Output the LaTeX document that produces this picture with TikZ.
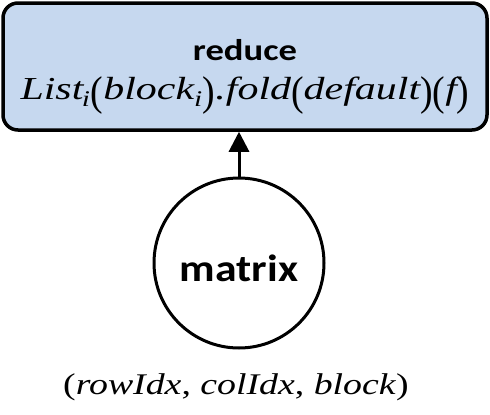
\documentclass[tikz,border=0pt]{standalone}
\usepackage{fontspec}
\usepackage{graphicx}
\setmainfont{Liberation Serif}
\newfontfamily\calfont{Carlito}
\usetikzlibrary{positioning,arrows.meta}
\definecolor{boxblue}{HTML}{C6D8EF}

% tall parentheses for the formula
\newcommand{\tpar}[1]{\raisebox{-0.16em}{\scalebox{0.9}[1.3]{\upshape #1}}}
\newcommand{\wide}[2]{\scalebox{#1}[1]{#2}}

\begin{document}
\begin{tikzpicture}[x=1pt,y=1pt,
    reducebox/.style={draw,line width=3.5pt,fill=boxblue,rounded corners=15pt,
      minimum width=484pt,minimum height=127pt,align=center,inner sep=0pt},
    mtxcircle/.style={draw,circle,line width=3pt,fill=white,minimum size=170pt,inner sep=0pt},
    flow/.style={-{Triangle[length=20pt,width=20pt]},line width=3pt}]
  \useasboundingbox (0,0) rectangle (490,-415);
  \node[reducebox] (reduce) at (245,-66.5) {};
  \node[font=\calfont\bfseries\fontsize{30}{34}\selectfont] (title) at (245,-50) {\wide{1.22}{reduce}};
  \node[font=\itshape\fontsize{32}{36}\selectfont] (formula) at (245,-95)
    {\wide{1.31}{List\textsubscript{\kern-0.05em i}\tpar{(}block\textsubscript{i}\tpar{)}.fold\tpar{(}default\tpar{)}\tpar{(}f\tpar{)}}};
  \node[mtxcircle] (matrix) at (239,-263) {};
  \node[font=\calfont\bfseries\fontsize{38}{42}\selectfont] (mtxlabel) at (239,-268) {\wide{1.15}{matrix}};
  \node[font=\fontsize{30}{34}\selectfont] (tuple) at (236,-387)
    {\wide{1.26}{(\textit{rowIdx}, \textit{colIdx}, \textit{block})}};
  \draw[flow] (matrix.north) -- (matrix.north |- reduce.south);
\end{tikzpicture}
\end{document}
